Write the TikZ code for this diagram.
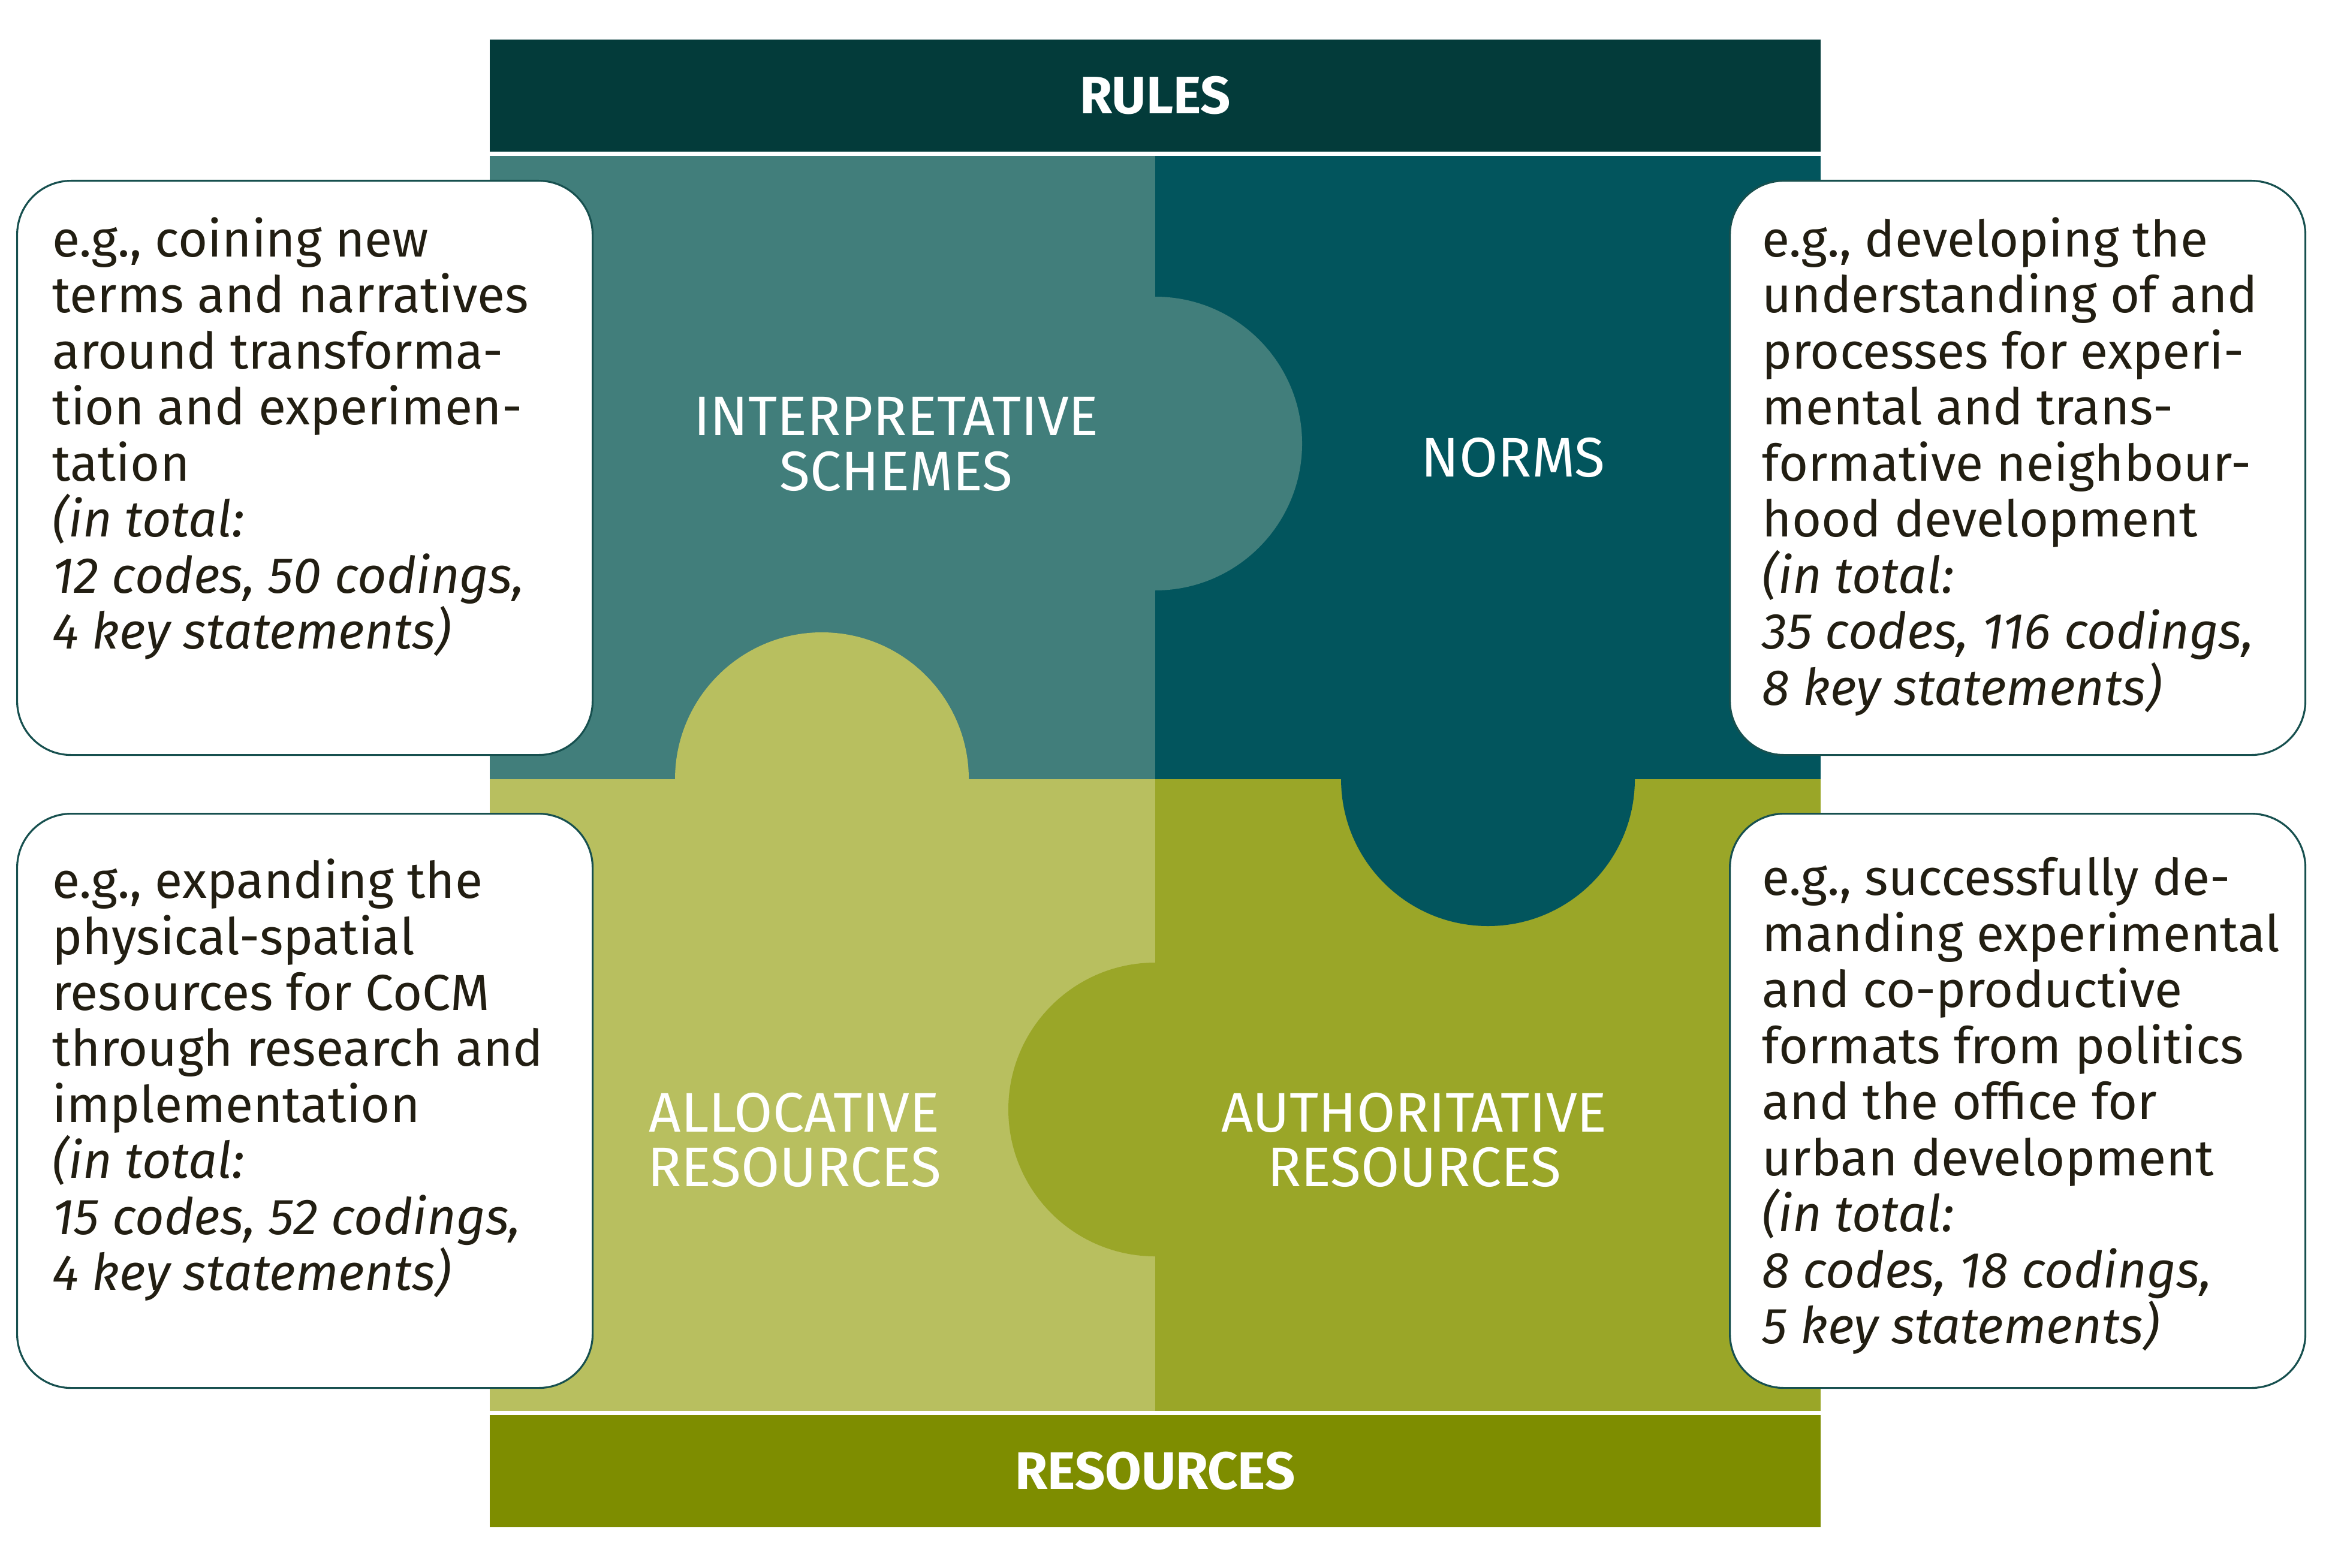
\documentclass[tikz,border=0pt]{standalone}
\usepackage{fontspec}
\setmainfont{Fira Sans}
\usetikzlibrary{positioning}

\definecolor{rulesbar}{HTML}{033B3A}
\definecolor{resbar}{HTML}{7E8D00}
\definecolor{schemes}{HTML}{417E7B}
\definecolor{norms}{HTML}{02555D}
\definecolor{allocative}{HTML}{B8BF5F}
\definecolor{authoritative}{HTML}{9AA628}
\definecolor{boxline}{HTML}{17504F}
\definecolor{textcol}{HTML}{221E12}

\begin{document}
\begin{tikzpicture}[
  bar/.style={minimum width=22.2cm, minimum height=1.87cm, inner sep=0pt, text=white, font=\fontsize{25}{30}\selectfont\bfseries},
  piece/.style={text=white, align=center, font=\fontsize{26.5}{26}\selectfont},
  infobox/.style={draw=boxline, line width=0.9pt, fill=white, rounded corners=0.9cm, minimum width=9.6cm, minimum height=9.58cm, inner sep=0pt, anchor=north west},
  boxtext/.style={align=left, inner sep=0pt, text=textcol, font=\fontsize{24}{26.6}\selectfont}
]
\fill[white] (0,0) rectangle (38.95,-26.16);
\useasboundingbox (0,0) rectangle (38.95,-26.16);

% puzzle quadrants
\fill[schemes] (8.17,-2.60) rectangle (19.27,-13.00);
\fill[norms] (19.27,-2.60) rectangle (30.37,-13.00);
\fill[allocative] (8.17,-13.00) rectangle (19.27,-23.54);
\fill[authoritative] (19.27,-13.00) rectangle (30.37,-23.54);
% tabs
\fill[schemes] (19.27,-7.40) circle (2.45);
\fill[norms] (24.82,-13.00) circle (2.45);
\fill[allocative] (13.71,-13.00) circle (2.45);
\fill[authoritative] (19.27,-18.51) circle (2.45);

\node[bar, fill=rulesbar] (rules) at (19.27,-1.595) {RULES};
\node[bar, fill=resbar] (resources) at (19.27,-24.545) {RESOURCES};

\node[piece] (schemeslabel) at (14.95,-7.41) {INTERPRETATIVE\\SCHEMES};
\node[piece] (normslabel) at (25.24,-7.63) {NORMS};
\node[piece] (alloclabel) at (13.25,-19.02) {ALLOCATIVE\\RESOURCES};
\node[piece] (authlabel) at (23.59,-19.02) {AUTHORITATIVE\\RESOURCES};

% example boxes
\node[infobox] (tlbox) at (0.27,-3.00) {};
\node[infobox] (trbox) at (28.84,-3.00) {};
\node[infobox] (blbox) at (0.27,-13.56) {};
\node[infobox] (brbox) at (28.84,-13.56) {};

\node[boxtext, below right=0.62cm and 0.60cm of tlbox.north west] (tltext) {e.g., coining new\\terms and narratives\\around transforma-\\tion and experimen-\\tation\\\textit{(in total:}\\\textit{12 codes, 50 codings,}\\\textit{4 key statements)}};
\node[boxtext, below right=0.62cm and 0.55cm of trbox.north west] (trtext) {e.g., developing the\\understanding of and\\processes for experi-\\mental and trans-\\formative neighbour-\\hood development\\\textit{(in total:}\\\textit{35 codes, 116 codings,}\\\textit{8 key statements)}};
\node[boxtext, below right=0.76cm and 0.60cm of blbox.north west] (bltext) {e.g., expanding the\\physical-spatial\\resources for CoCM\\through research and\\implementation\\\textit{(in total:}\\\textit{15 codes, 52 codings,}\\\textit{4 key statements)}};
\node[boxtext, below right=0.74cm and 0.55cm of brbox.north west] (brtext) {e.g., successfully de-\\manding experimental\\and co-productive\\formats from politics\\and the office for\\urban development\\\textit{(in total:}\\\textit{8 codes, 18 codings,}\\\textit{5 key statements)}};

\end{tikzpicture}
\end{document}
